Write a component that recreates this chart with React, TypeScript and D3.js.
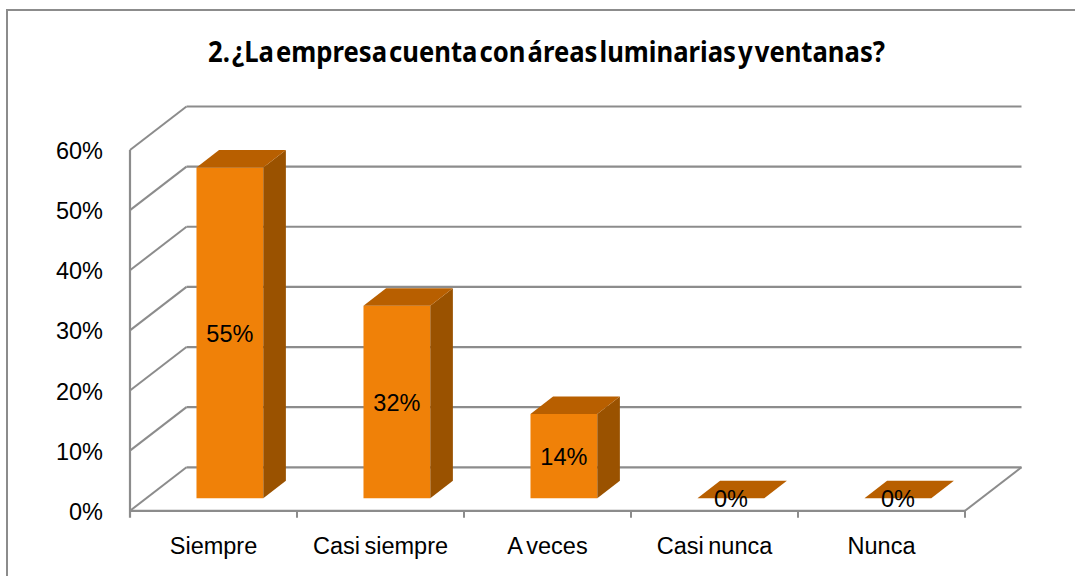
import { useEffect, useRef } from "react";
import * as d3 from "d3";

const title = "2. ¿La empresa cuenta con áreas luminarias y ventanas?";
const categories = ["Siempre", "Casi siempre", "A veces", "Casi nunca", "Nunca"];
const values = [0.55, 0.32, 0.14, 0, 0];
const valueLabels = ["55%", "32%", "14%", "0%", "0%"];
const yTicks = [0, 0.1, 0.2, 0.3, 0.4, 0.5, 0.6];
const yTickLabels = ["0%", "10%", "20%", "30%", "40%", "50%", "60%"];

const App = () => {
  const chartRef = useRef<SVGSVGElement | null>(null);

  useEffect(() => {
    if (!chartRef.current) return;
    const root = d3.select(chartRef.current);
    root.selectAll("*").remove();

    const width = 1075,
      height = 576;
    // 3d depth of the plot box
    const depthX = 56.5,
      depthY = 43.5;
    const barFront = 0.29,
      barBack = 0.69;
    const grid = "#8c8c8c";
    const font = "'Liberation Sans', Arial, sans-serif";

    root.attr("width", width).attr("height", height);

    root
      .append("rect")
      .attr("x", 7)
      .attr("y", 10)
      .attr("width", width + 20)
      .attr("height", height + 20)
      .attr("fill", "#fff")
      .attr("stroke", grid)
      .attr("stroke-width", 2);

    const x = d3.scaleBand().domain(categories).range([130, 965]);
    const y = d3.scaleLinear().domain([0, 0.6]).range([510.8, 150]);
    const bw = x.bandwidth();

    root
      .append("text")
      .attr("x", 208)
      .attr("y", 62)
      .attr("textLength", 677)
      .attr("lengthAdjust", "spacingAndGlyphs")
      .style("font-family", "'Noto Sans', sans-serif")
      .style("font-weight", "bold")
      .style("font-size", "28px")
      .style("word-spacing", "-5px")
      .attr("fill", "#000")
      .text(title);

    const g = root.append("g");

    // back wall gridlines
    g.selectAll(".back")
      .data(yTicks)
      .enter()
      .append("line")
      .attr("x1", 130 + depthX)
      .attr("x2", 965 + depthX)
      .attr("y1", (d) => y(d) - depthY)
      .attr("y2", (d) => y(d) - depthY)
      .attr("stroke", grid)
      .attr("stroke-width", 2.2);

    // side wall diagonals
    g.selectAll(".diag")
      .data(yTicks)
      .enter()
      .append("line")
      .attr("x1", 130)
      .attr("x2", 130 + depthX)
      .attr("y1", (d) => y(d))
      .attr("y2", (d) => y(d) - depthY)
      .attr("stroke", grid)
      .attr("stroke-width", 2);

    // floor right edge + front edge + left axis
    g.append("line")
      .attr("x1", 965)
      .attr("y1", y(0))
      .attr("x2", 965 + depthX)
      .attr("y2", y(0) - depthY)
      .attr("stroke", grid)
      .attr("stroke-width", 2);
    g.append("line")
      .attr("x1", 130)
      .attr("y1", y(0))
      .attr("x2", 965)
      .attr("y2", y(0))
      .attr("stroke", grid)
      .attr("stroke-width", 2.2);
    g.append("line")
      .attr("x1", 130)
      .attr("y1", y(0.6))
      .attr("x2", 130)
      .attr("y2", y(0) + 7)
      .attr("stroke", grid)
      .attr("stroke-width", 2.2);

    // category ticks
    g.selectAll(".tick")
      .data(categories)
      .enter()
      .append("line")
      .attr("x1", (d) => x(d)! + bw)
      .attr("x2", (d) => x(d)! + bw)
      .attr("y1", y(0))
      .attr("y2", y(0) + 7)
      .attr("stroke", grid)
      .attr("stroke-width", 2);

    // bars
    const data = categories.map((c, i) => ({ c, v: values[i], label: valueLabels[i] }));
    const bars = g.selectAll(".bar").data(data).enter().append("g");
    const x0 = (d: { c: string }) => x(d.c)! + bw * 0.3 + barFront * depthX;
    const x1 = (d: { c: string }) => x(d.c)! + bw * 0.7 + barFront * depthX;
    const dxB = (barBack - barFront) * depthX;
    const dyB = (barBack - barFront) * depthY;
    const yb = y(0) - barFront * depthY;
    const yt = (d: { v: number }) => y(d.v) - barFront * depthY;

    bars
      .filter((d) => d.v > 0)
      .append("path")
      .attr("d", (d) => `M${x0(d)},${yb}H${x1(d)}V${yt(d)}H${x0(d)}Z`)
      .attr("fill", "#f08108");
    bars
      .filter((d) => d.v > 0)
      .append("path")
      .attr(
        "d",
        (d) =>
          `M${x1(d)},${yb}L${x1(d) + dxB},${yb - dyB}V${yt(d) - dyB}L${x1(d)},${yt(d)}Z`
      )
      .attr("fill", "#9a5200");
    bars
      .append("path")
      .attr(
        "d",
        (d) =>
          `M${x0(d)},${yt(d)}H${x1(d)}L${x1(d) + dxB},${yt(d) - dyB}H${x0(d) + dxB}Z`
      )
      .attr("fill", "#b85f00");

    bars
      .append("text")
      .attr("x", (d) => (x0(d) + x1(d)) / 2)
      .attr("y", (d) => (d.v > 0 ? (yb + yt(d)) / 2 : yb) + 9)
      .attr("text-anchor", "middle")
      .style("font-family", font)
      .style("font-size", "23.5px")
      .attr("fill", "#000")
      .text((d) => d.label);

    // y labels
    g.selectAll(".ylab")
      .data(yTicks)
      .enter()
      .append("text")
      .attr("x", 103)
      .attr("y", (d) => y(d) + 9)
      .attr("text-anchor", "end")
      .style("font-family", font)
      .style("font-size", "23.5px")
      .attr("fill", "#000")
      .text((_, i) => yTickLabels[i]);

    // category labels
    g.selectAll(".xlab")
      .data(categories)
      .enter()
      .append("text")
      .attr("x", (d) => x(d)! + bw / 2)
      .attr("y", 554)
      .attr("text-anchor", "middle")
      .style("font-family", font)
      .style("font-size", "23.5px")
      .style("word-spacing", "-2px")
      .attr("fill", "#000")
      .text((d) => d);
  }, []);

  return (
    <div style={{ position: "fixed", left: 0, top: 0 }}>
      <svg ref={chartRef} style={{ display: "block" }}></svg>
    </div>
  );
};

export default App;
